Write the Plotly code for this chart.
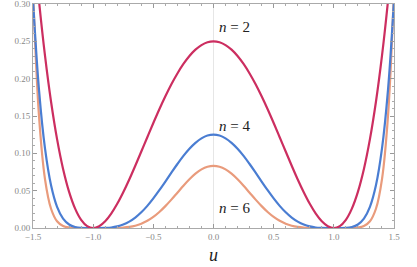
import plotly.graph_objects as go

u = [-1.5, -1.45, -1.4, -1.35, -1.3, -1.25, -1.2, -1.15, -1.1, -1.05, -1.0, -0.95, -0.9, -0.85, -0.8,
     -0.75, -0.7, -0.65, -0.6, -0.55, -0.5, -0.45, -0.4, -0.35, -0.3, -0.25, -0.2, -0.15, -0.1, -0.05,
     0.0, 0.05, 0.1, 0.15, 0.2, 0.25, 0.3, 0.35, 0.4, 0.45, 0.5, 0.55, 0.6, 0.65, 0.7, 0.75, 0.8, 0.85,
     0.9, 0.95, 1.0, 1.05, 1.1, 1.15, 1.2, 1.25, 1.3, 1.35, 1.4, 1.45, 1.5]

v_n2 = [0.3906, 0.3039, 0.2304, 0.1691, 0.1190, 0.0791, 0.0484, 0.0260, 0.0110, 0.0026, 0.0, 0.0024,
        0.0090, 0.0193, 0.0324, 0.0479, 0.0650, 0.0834, 0.1024, 0.1216, 0.1406, 0.1590, 0.1764, 0.1925,
        0.2070, 0.2197, 0.2304, 0.2389, 0.2450, 0.2488,
        0.25,
        0.2488, 0.2450, 0.2389, 0.2304, 0.2197, 0.2070, 0.1925, 0.1764, 0.1590, 0.1406, 0.1216, 0.1024,
        0.0834, 0.0650, 0.0479, 0.0324, 0.0193, 0.0090, 0.0024, 0.0, 0.0026, 0.0110, 0.0260, 0.0484,
        0.0791, 0.1190, 0.1691, 0.2304, 0.3039, 0.3906]

v_n4 = [0.3052, 0.1847, 0.1062, 0.0572, 0.0283, 0.0125, 0.0047, 0.0014, 0.0002, 0.0, 0.0, 0.0,
        0.0002, 0.0007, 0.0021, 0.0046, 0.0085, 0.0139, 0.0210, 0.0296, 0.0396, 0.0506, 0.0622, 0.0741,
        0.0857, 0.0966, 0.1062, 0.1141, 0.1201, 0.1238,
        0.125,
        0.1238, 0.1201, 0.1141, 0.1062, 0.0966, 0.0857, 0.0741, 0.0622, 0.0506, 0.0396, 0.0296, 0.0210,
        0.0139, 0.0085, 0.0046, 0.0021, 0.0007, 0.0002, 0.0, 0.0, 0.0, 0.0002, 0.0014, 0.0047,
        0.0125, 0.0283, 0.0572, 0.1062, 0.1847, 0.3052]

v_n6 = [0.3179, 0.1497, 0.0652, 0.0258, 0.0090, 0.0026, 0.0006, 0.0001, 0.0, 0.0, 0.0, 0.0,
        0.0, 0.0, 0.0002, 0.0006, 0.0015, 0.0031, 0.0057, 0.0096, 0.0148, 0.0214, 0.0293, 0.0380,
        0.0473, 0.0566, 0.0652, 0.0727, 0.0785, 0.0821,
        0.0833,
        0.0821, 0.0785, 0.0727, 0.0652, 0.0566, 0.0473, 0.0380, 0.0293, 0.0214, 0.0148, 0.0096, 0.0057,
        0.0031, 0.0015, 0.0006, 0.0002, 0.0, 0.0, 0.0, 0.0, 0.0, 0.0, 0.0001, 0.0006,
        0.0026, 0.0090, 0.0258, 0.0652, 0.1497, 0.3179]

x_ticks = [-1.5, -1.0, -0.5, 0.0, 0.5, 1.0, 1.5]
x_ticktext = ["\u22121.5", "\u22121.0", "\u22120.5", "0.0", "0.5", "1.0", "1.5"]
y_ticks = [0.0, 0.05, 0.10, 0.15, 0.20, 0.25, 0.30]
y_ticktext = ["0.00", "0.05", "0.10", "0.15", "0.20", "0.25", "0.30"]

series = [("n = 2", v_n2, "#CC2E60"), ("n = 4", v_n4, "#4A7DD2"), ("n = 6", v_n6, "#E99B7C")]
label_pos = [(0.03, 0.269), (0.03, 0.137), (0.03, 0.027)]
labels = ["<i>n</i> = 2", "<i>n</i> = 4", "<i>n</i> = 6"]

fig = go.Figure()
for (name, vals, col) in reversed(series):
    fig.add_trace(go.Scatter(x=u, y=vals, mode="lines", name=name,
                             line=dict(color=col, width=2.2, shape="spline", smoothing=1.0),
                             showlegend=False, hoverinfo="skip"))

for (lx, ly), txt in zip(label_pos, labels):
    fig.add_annotation(x=lx, y=ly, text=txt, showarrow=False, xanchor="left",
                       font=dict(family="Liberation Serif", size=15, color="#222222"))

fig.add_annotation(x=0.5, xref="paper", y=0, yref="paper", yshift=-27, yanchor="middle",
                   text="<i>u</i>", showarrow=False,
                   font=dict(family="Liberation Serif", size=18, color="#222222"))

axis_common = dict(showline=True, linecolor="#AAAAAA", linewidth=1, mirror="ticks",
                   ticks="inside", tickcolor="#999999", ticklen=4, showgrid=False, automargin=False,
                   ticklabeloverflow="allow",
                   tickfont=dict(family="Liberation Serif", size=9, color="#888888"))

fig.update_xaxes(range=[-1.5, 1.5], tickmode="array", tickvals=x_ticks, ticktext=x_ticktext,
                 minor=dict(dtick=0.1, tick0=0, ticks="inside", ticklen=2, tickcolor="#AAAAAA"),
                 zeroline=True, zerolinecolor="#E6E6E6", zerolinewidth=1,
                 **axis_common)
fig.update_yaxes(range=[0, 0.3], tickmode="array", tickvals=y_ticks, ticktext=y_ticktext,
                 minor=dict(dtick=0.01, tick0=0, ticks="inside", ticklen=2, tickcolor="#AAAAAA"),
                 zeroline=False, **axis_common)

fig.update_layout(width=417, height=267, margin=dict(l=33, r=23, t=4, b=39),
                  paper_bgcolor="white", plot_bgcolor="white", hovermode=False)

fig.write_html("out.html", config={"displayModeBar": False},
               post_script="document.body.style.margin='0';document.body.style.padding='0';")
